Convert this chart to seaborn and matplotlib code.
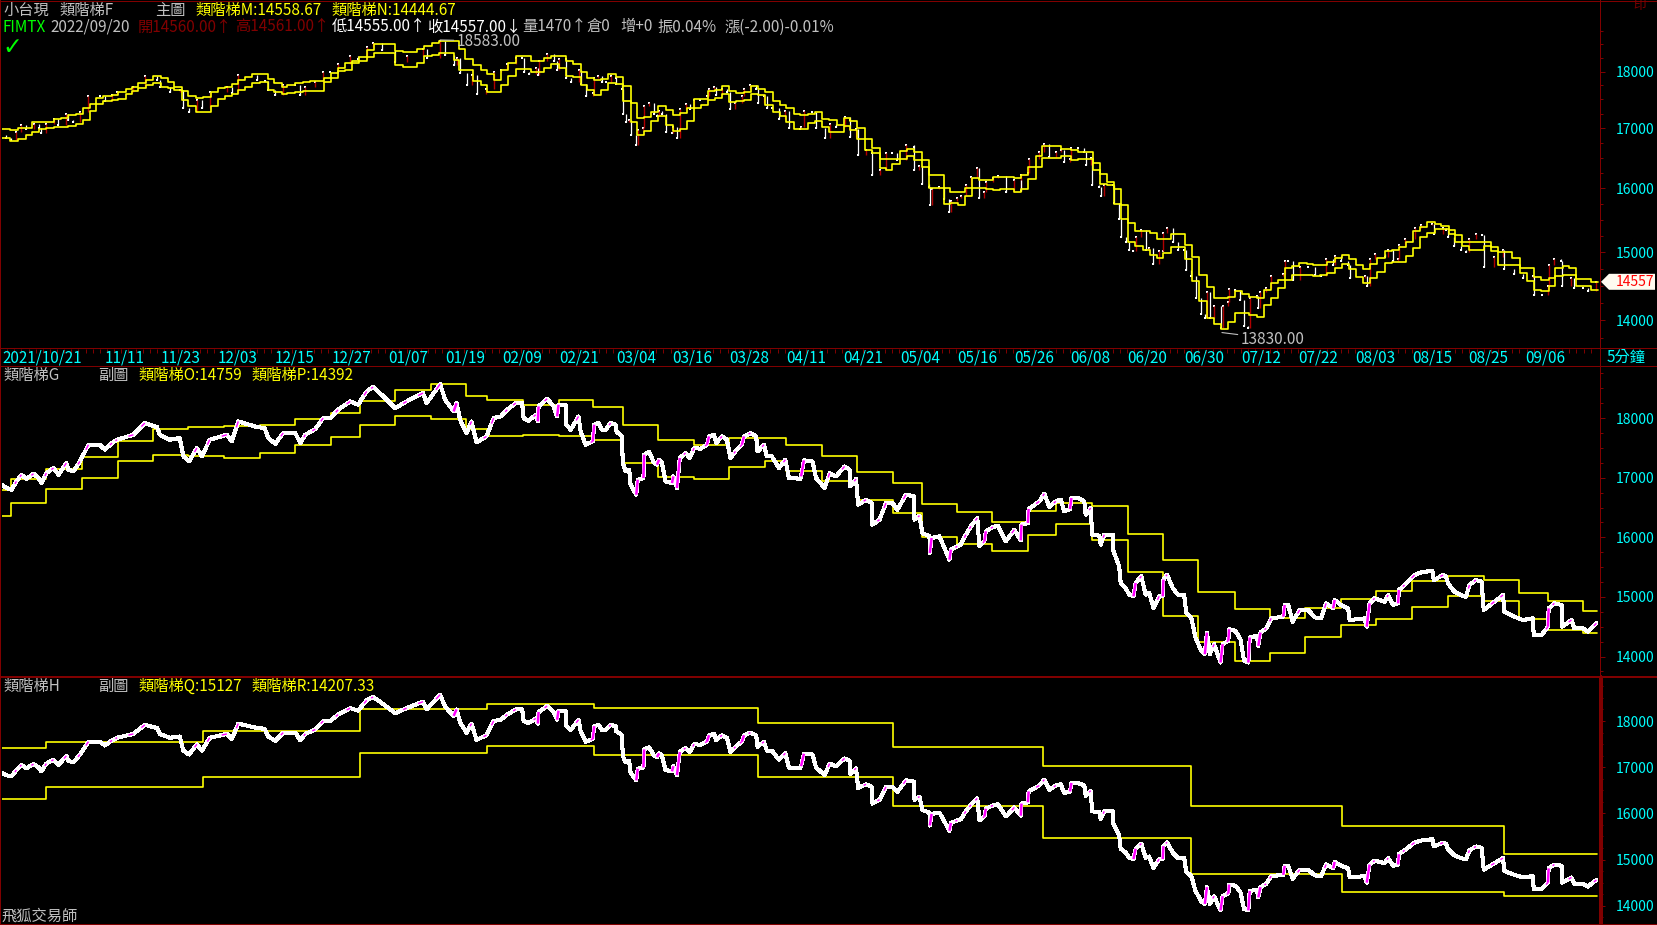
import numpy as np
import seaborn as sns
import matplotlib.pyplot as plt
from matplotlib.collections import LineCollection
from matplotlib.lines import Line2D
from matplotlib.patches import Polygon
from matplotlib.ticker import NullFormatter

# close prices (session number counted from 2021/10/21)
close_session = [
    0.2, 0.9, 1.6, 2.3, 3.0, 3.7, 4.7, 5.4, 5.8, 6.5, 7.5, 8.2, 9.3, 9.6, 10.3, 11.2, 12.4, 14.0, 14.7, 15.7,
    16.4, 18.7, 20.3, 22.0, 22.4, 23.8, 25.2, 25.7, 26.5, 27.6, 28.3, 29.4, 31.8, 32.5, 33.4, 36.0, 37.1, 37.6, 38.6, 39.7,
    41.4, 42.1, 42.8, 44.2, 45.3, 46.3, 47.4, 49.1, 50.2, 51.4, 52.3, 53.5, 55.4, 57.0, 59.3, 59.8, 61.7, 62.4, 63.6, 64.0,
    64.5, 65.4, 66.1, 66.8, 68.2, 69.2, 70.2, 71.1, 72.3, 73.2, 73.4, 74.1, 75.1, 75.4, 75.5, 76.7, 77.6, 78.1, 78.3, 79.3,
    79.4, 80.0, 81.1, 81.4, 82.1, 83.1, 83.3, 83.9, 84.4, 84.9, 85.6, 86.3, 86.4, 87.2, 87.3, 87.7, 88.2, 88.4, 89.2, 89.4,
    90.2, 90.3, 91.0, 91.7, 92.1, 92.4, 92.8, 93.3, 94.2, 94.4, 94.9, 95.3, 96.1, 96.7, 97.3, 98.2, 99.1, 99.4, 100.1, 100.4,
    101.2, 101.9, 102.4, 103.1, 104.0, 104.3, 105.2, 106.0, 106.2, 107.1, 107.5, 108.2, 109.2, 110.1, 110.6, 112.2, 112.3, 112.7, 113.9, 114.4,
    115.6, 116.3, 117.2, 118.4, 119.1, 119.2, 120.0, 120.3, 121.4, 122.2, 122.3, 123.3, 124.2, 125.1, 125.8, 127.0, 128.1, 128.2, 128.9, 129.3,
    130.3, 130.35, 130.6, 131.7, 132.4, 133.1, 133.3, 134.2, 134.7, 135.4, 136.1, 137.0, 137.3, 138.0, 138.2, 139.2, 139.9, 141.0, 142.2, 143.1,
    143.2, 144.1, 144.2, 145.7, 146.4, 147.1, 148.0, 148.7, 149.2, 150.0, 150.2, 151.1, 152.0, 152.2, 152.9, 153.1, 154.1, 154.3, 154.8, 156.0,
    156.1, 156.9, 157.1, 157.8, 158.3, 158.9, 159.2, 160.0, 160.6, 161.1, 161.7, 162.5, 163.0, 163.1, 163.6, 164.4, 165.1, 166.0, 166.3, 167.0,
    167.6, 168.4, 168.9, 169.2, 169.6, 170.2, 171.1, 171.4, 172.2, 172.3, 173.2, 173.9, 174.4, 175.0, 175.2, 176.2, 176.4, 176.7, 177.5, 178.2,
    179.9, 180.1, 180.6, 181.2, 182.2, 183.4, 184.3, 185.2, 185.9, 186.9, 187.1, 188.0, 189.0, 189.2, 191.3, 191.6, 192.0, 192.7, 194.1, 194.6,
    195.3, 196.0, 196.1, 196.9, 198.3, 199.2, 200.8, 201.0, 202.3, 202.7, 203.0, 203.9, 204.8, 205.5, 206.0, 206.9, 207.7, 208.0, 209.5, 210.7,
    210.9, 212.3, 213.5, 214.9, 215.0, 216.1, 217.0, 217.1, 217.9, 218.9, 219.0, 220.3, 220.7, 221.9, 222.6, 223.8,
]
close_price = [
    16883, 16827, 16799, 16938, 17050, 16978, 17067, 16994, 16911, 17078, 17162, 17050, 17246, 17134, 17106, 17274, 17553, 17553, 17470, 17581,
    17637, 17721, 17917, 17850, 17721, 17637, 17665, 17358, 17274, 17498, 17358, 17637, 17721, 17609, 17945, 17850, 17833, 17665, 17570, 17749,
    17749, 17581, 17721, 17816, 18000, 18000, 18140, 18280, 18224, 18448, 18520, 18392, 18168, 18280, 18420, 18252, 18571, 18308, 18112, 18252,
    17973, 17749, 17945, 17592, 17693, 18000, 18028, 18140, 18252, 18252, 18000, 17956, 18056, 17945, 18196, 18325, 18196, 18028, 18224, 18224,
    17889, 17805, 18028, 17777, 17553, 17609, 17889, 17917, 17805, 17805, 17917, 17889, 17777, 17693, 17246, 17106, 17134, 16883, 16715, 16966,
    16994, 17386, 17430, 17246, 17218, 17302, 17246, 16938, 16910, 17022, 16827, 17330, 17414, 17330, 17498, 17486, 17553, 17693, 17721, 17581,
    17693, 17637, 17330, 17442, 17553, 17693, 17749, 17693, 17442, 17553, 17358, 17358, 17162, 17302, 16994, 16983, 17022, 17291, 17274, 16994,
    16827, 17078, 17022, 17190, 17134, 16855, 16978, 16547, 16631, 16575, 16212, 16296, 16575, 16575, 16463, 16715, 16687, 16296, 16363, 16072,
    16016, 15737, 15988, 16016, 15820, 15625, 15793, 15848, 15876, 16044, 16184, 16324, 15848, 15932, 16100, 16173, 16195, 15932, 16128, 15949,
    16212, 16240, 16475, 16603, 16732, 16508, 16603, 16631, 16436, 16475, 16659, 16659, 16603, 16380, 16491, 16044, 16027, 15876, 16044, 16044,
    15765, 15513, 15234, 15150, 15038, 15010, 15234, 15346, 15038, 15066, 14814, 15010, 15010, 15290, 15374, 15150, 15038, 15038, 14730, 14646,
    14319, 14095, 14039, 14402, 14039, 14207, 13899, 14207, 14263, 14458, 14430, 14291, 13927, 13899, 14319, 14347, 14179, 14402, 14472, 14640,
    14668, 14864, 14864, 14584, 14780, 14780, 14657, 14640, 14892, 14808, 14948, 14864, 14808, 14612, 14640, 14500, 14892, 14976, 14920, 15032,
    14864, 14892, 15115, 15199, 15367, 15411, 15439, 15283, 15367, 15339, 15227, 15087, 15031, 15003, 15199, 15283, 15255, 14780, 14920, 15031,
    14752, 14668, 14612, 14640, 14360, 14360, 14500, 14808, 14892, 14864, 14500, 14612, 14472, 14472, 14416, 14557,
]

# ladder F, main chart
ladder_f_session = [
    0.1, 1.4, 2.5, 3.6, 4.5, 5.5, 6.5, 7.6, 8.5, 9.5, 10.7, 11.6, 12.6, 13.5, 14.5, 15.7, 16.6, 17.6, 18.5, 19.4,
    20.4, 21.4, 22.5, 23.5, 24.4, 25.5, 26.4, 27.5, 28.5, 29.6, 30.6, 31.5, 32.5, 33.4, 34.4, 35.3, 36.5, 37.5, 38.4, 39.5,
    40.3, 41.4, 42.5, 43.4, 44.5, 45.4, 46.4, 47.4, 48.4, 49.3, 50.3, 51.5, 52.4, 54.3, 55.4, 56.5, 58.4, 59.5, 60.5, 61.6,
    63.6, 64.3, 65.2, 66.3, 67.4, 68.3, 69.3, 70.2, 71.2, 72.3,
    74.4, 75.4, 76.3, 77.3, 78.4, 79.4, 80.3, 81.4, 82.3, 83.3, 84.3, 85.3, 86.3, 87.3, 88.4, 89.3, 90.3, 91.3, 92.3, 93.3,
    94.3, 95.3, 96.3, 97.3, 98.3, 99.3, 100.2, 101.2, 102.2, 103.2, 104.3, 105.3, 106.3, 107.3, 108.3, 109.3, 110.2, 111.3, 112.2, 113.3,
    114.2, 115.3, 116.2, 117.3, 118.3, 119.2, 120.2, 121.2, 122.2, 123.3, 124.2, 125.1, 126.2, 127.2, 128.2, 129.2, 130.2, 131.2, 132.3, 133.2,
    134.3, 135.3, 136.2, 137.2, 138.2, 139.2, 140.2, 142.2, 143.2, 144.1, 145.2, 146.1,
    148.8, 150.2, 151.1, 152.3, 153.2, 154.2, 155.2, 156.2, 157.2, 158.1, 159.1, 160.2, 161.2, 162.2, 163.1, 164.2, 166.1, 167.1, 168.1, 169.2,
    170.2, 171.1, 172.1, 173.1, 174.1, 175.1, 176.2, 177.2, 178.2, 179.1, 180.2, 181.1, 182.1, 183.2, 184.1, 185.1, 186.0, 187.1, 188.1, 189.1,
    190.1, 191.1, 192.1, 193.1, 194.1, 195.1, 196.1, 197.1, 198.1, 199.1, 200.1, 201.1, 202.0, 203.1, 204.0, 205.0, 206.0, 207.0, 208.1, 209.0,
    210.0, 212.0, 213.1, 214.0, 215.1, 216.0, 217.1, 218.0, 219.1, 220.0, 221.0, 222.0, 223.0, 224.0,
]
ladder_m = [
    16993, 16970, 16999, 16999, 17103, 17103, 17103, 17156, 17173, 17231, 17243, 17347, 17422, 17521, 17568, 17580, 17640, 17694, 17730, 17790,
    17850, 17910, 17874, 17802, 17730, 17658, 17568, 17521, 17538, 17640, 17700, 17730, 17772, 17838, 17892, 17952, 17952, 17862, 17790, 17730,
    17748, 17790, 17808, 17820, 17832, 17880, 17970, 18061, 18151, 18201, 18263, 18400, 18499, 18505, 18369, 18350, 18412, 18474, 18524, 18555,
    18555, 18412, 18226, 18121, 18031, 17952, 17838, 18031, 18151, 18288,
    18194, 18200, 18242, 18291, 18285, 18200, 18133, 17999, 17880, 17850, 17862, 17957, 17898, 17731, 17434, 17167, 17185, 17288, 17392, 17317,
    17219, 17259, 17345, 17505, 17505, 17642, 17660, 17731, 17642, 17612, 17624, 17731, 17690, 17630, 17475, 17404, 17345, 17248, 17230, 17248,
    17271, 17156, 17133, 17058, 17173, 17116, 17001, 16811, 16661, 16478, 16478, 16478, 16606, 16644, 16589, 16467, 16217, 16217, 16002, 15937,
    15937, 16002, 16163, 16126, 16136, 16190, 16190, 16163, 16217, 16344, 16522, 16689,
    16650, 16622, 16594, 16594, 16411, 16228, 16099, 15986, 15733, 15446, 15316, 15316, 15290, 15202, 15202, 15274, 15111, 14925, 14660, 14482,
    14320, 14320, 14334, 14417, 14383, 14334, 14320, 14441, 14538, 14587, 14759, 14794, 14835, 14825, 14810, 14800, 14850, 14910, 14955, 14900,
    14800, 14745, 14825, 14910, 15010, 15025, 15076, 15161, 15316, 15384, 15456, 15436, 15405, 15332, 15254, 15156, 15156, 15156, 15150, 15076,
    15000, 14910, 14759, 14759, 14635, 14577, 14611, 14759, 14784, 14759, 14602, 14602, 14558, 14558,
]
ladder_n = [
    16829, 16784, 16818, 16885, 16942, 16982, 16999, 17016, 17028, 17040, 17063, 17144, 17289, 17422, 17480, 17492, 17504, 17598, 17658, 17700,
    17760, 17790, 17730, 17700, 17670, 17492, 17376, 17277, 17277, 17388, 17504, 17562, 17598, 17670, 17730, 17790, 17802, 17670, 17628, 17598,
    17610, 17640, 17652, 17652, 17652, 17808, 17880, 18001, 18031, 18163, 18201, 18263, 18338, 18338, 18121, 18091, 18151, 18276, 18307, 18338,
    18213, 18031, 18031, 17820, 17760, 17640, 17628, 17760, 17910, 18043,
    17999, 17987, 18060, 18139, 18060, 17921, 17898, 17761, 17672, 17583, 17672, 17791, 17773, 17481, 17104, 16880, 16943, 17116, 17202, 17058,
    16943, 16984, 17127, 17345, 17404, 17493, 17523, 17594, 17463, 17481, 17493, 17594, 17583, 17404, 17288, 17213, 17104, 16984, 16984, 17087,
    17116, 17018, 16932, 16932, 17029, 16961, 16811, 16633, 16578, 16328, 16300, 16400, 16478, 16533, 16456, 16344, 16002, 16002, 15749, 15760,
    15733, 15878, 16002, 16002, 15980, 15964, 15991, 15937, 15991, 16147, 16344, 16494,
    16522, 16466, 16478, 16483, 16289, 16072, 16056, 15749, 15508, 15161, 15086, 15025, 14960, 14910, 14985, 15076, 14895, 14562, 14271, 14034,
    13949, 13878, 13972, 14104, 14104, 14081, 14048, 14222, 14320, 14465, 14587, 14660, 14660, 14660, 14645, 14660, 14684, 14759, 14820, 14745,
    14635, 14538, 14611, 14700, 14835, 14845, 14850, 14935, 15060, 15238, 15290, 15358, 15358, 15280, 15161, 15096, 15035, 15035, 15100, 15010,
    14810, 14800, 14684, 14562, 14431, 14417, 14490, 14645, 14660, 14660, 14490, 14490, 14444, 14444,
]

# ladder G, first sub chart
ladder_g_session = [
    0, 1.5, 6.5, 11.5, 16.5, 21.4, 26.4, 31.4, 36.4, 41.4, 46.4, 50.4, 55.4, 60.4, 65.3, 68.3, 73.3, 78.3, 83.2, 87.3,
    92.2, 97.3, 102.2, 107.2, 110.2, 115.3, 120.2, 125.2, 129.2, 134.2, 139.1, 144.1, 148.1, 153.1, 158.1, 163.1, 168.0, 173.1, 178.1, 183.0,
    188.0, 192.9, 198.0, 203.0, 208.0, 212.9, 217.0, 221.9, 223.9,
]
ladder_o = [
    16799, 16978, 17145, 17347, 17615, 17816, 17850, 17866, 17883, 17984, 18090, 18286, 18470, 18571, 18370, 18302, 18219, 18302, 18185, 17883,
    17632, 17548, 17665, 17665, 17548, 17363, 17095, 16911, 16558, 16424, 16257, 16441, 16575, 16525, 16055, 15619, 15076, 14791, 14640, 14808,
    14959, 15093, 15260, 15344, 15277, 15059, 14925, 14759, 14759,
]
ladder_p = [
    16357, 16575, 16804, 16994, 17280, 17380, 17363, 17330, 17414, 17548, 17682, 17878, 18029, 17984, 17816, 17699, 17715, 17699, 17626, 17246,
    17011, 16978, 17179, 17280, 17106, 16944, 16625, 16407, 16005, 15888, 15770, 16039, 16223, 15955, 15418, 14680, 14238, 13919, 14053, 14321,
    14523, 14623, 14825, 15009, 14925, 14623, 14439, 14392, 14392,
]

# ladder H, second sub chart
ladder_h_session = [0, 6.5, 28.4, 50.4, 68.3, 83.3, 106.3, 125.2, 146.2, 167.0, 188.2, 210.9, 223.9]
ladder_q = [17409, 17539, 17777, 18254, 18377, 18274, 17950, 17430, 17019, 16153, 15720, 15127, 15127]
ladder_r = [16304, 16578, 16794, 17300, 17452, 17257, 16780, 16153, 15460, 14680, 14290, 14207, 14207]

# x axis dates; every label after the long first one is 8 sessions on
first_date = '2021/10/21'
date_labels = ['11/11', '11/23', '12/03', '12/15', '12/27', '01/07', '01/19', '02/09', '02/21', '03/04', '03/16', '03/28', '04/11',
               '04/21', '05/04', '05/16', '05/26', '06/08', '06/20', '06/30', '07/12', '07/22', '08/03', '08/15', '08/25', '09/06']
price_ticks = [14000, 15000, 16000, 17000, 18000]

high_price, high_session = 18583, 61.7
low_price, low_session = 13830, 171.3
last_price = 14557

W, H = 1658, 925
RED = '#800000'
YELLOW = '#ffff00'
CYAN = '#00ffff'
GREY = '#c0c0c0'
MAGENTA = '#ff00ff'
FS = 11

sns.set_theme(style='dark', rc={'axes.facecolor': 'black', 'figure.facecolor': 'black'})
plt.rcParams['font.family'] = ['Noto Sans CJK TC', 'DejaVu Sans']


def pix_rect(x0, y0, x1, y1):
    return [x0 / W, 1 - y1 / H, (x1 - x0) / W, (y1 - y0) / H]


def put(x, y, s, color=GREY, **kw):
    kw.setdefault('fontsize', FS)
    fig.text(x / W, 1 - y / H, s, color=color, va='center', ha='left', **kw)


def rule(x0, y0, x1, y1, lw=1.0):
    fig.add_artist(Line2D([x0 / W, x1 / W], [1 - y0 / H, 1 - y1 / H], color=RED, lw=lw * 0.72,
                          antialiased=False))


def setup_axis(ax, ylim, log=False):
    if log:
        ax.set_yscale('log')
    ax.set_xlim(0.28, 224.3)
    ax.set_ylim(*ylim)
    ax.set_xticks([])
    ax.yaxis.tick_right()
    ax.set_yticks(price_ticks, [str(t) for t in price_ticks])
    ax.set_yticks(np.arange(13750, 19000, 250), minor=True)
    ax.yaxis.set_minor_formatter(NullFormatter())
    ax.tick_params(axis='y', which='major', right=True, length=3.6, width=0.72, color=RED,
                   labelcolor=CYAN, labelsize=10, pad=8)
    ax.tick_params(axis='y', which='minor', right=True, length=2.2, width=0.72, color=RED)
    ax.grid(False)
    for side in ax.spines:
        ax.spines[side].set_visible(False)


def draw_ladder(ax, session, values, lw=1.2):
    sns.lineplot(x=session, y=values, ax=ax, color=YELLOW, lw=lw, sort=False, estimator=None,
                 drawstyle='steps-post', legend=False)


def draw_close(ax):
    sns.lineplot(x=session, y=price, ax=ax, color='white', lw=2.2, sort=False, estimator=None,
                 antialiased=False, legend=False)
    # big jumps stay magenta over their whole length, on slow rises only the top of the leg shows
    jumps = []
    slow = []
    for i in range(len(session) - 1):
        x0, x1, y0, y1 = session[i], session[i + 1], price[i], price[i + 1]
        if y1 - y0 < 50:
            continue
        if x1 - x0 < 0.45:
            jumps.append([(x0, y0), (x1, y1)])
        else:
            slow.append([(x1 - 0.3 * (x1 - x0), y1 - 0.3 * (y1 - y0)), (x1, y1)])
    ax.add_collection(LineCollection(jumps, colors=MAGENTA, linewidths=1.8))
    ax.add_collection(LineCollection(slow, colors=MAGENTA, linewidths=1.0))


session = np.array(close_session)
price = np.array(close_price)

fig = plt.figure(figsize=(W / 100, H / 100), dpi=100)
ax1 = fig.add_axes(pix_rect(2, 2, 1600, 348))
ax2 = fig.add_axes(pix_rect(2, 365, 1600, 676))
ax3 = fig.add_axes(pix_rect(2, 678, 1600, 922))
strip = fig.add_axes(pix_rect(2, 349, 1600, 365))

setup_axis(ax1, (13616, 19309), log=True)
setup_axis(ax2, (13673, 18891))
setup_axis(ax3, (13647, 18932))

# main chart: thin candles only, up bars dark red, down bars white
up = np.diff(price) > 0
ax1.vlines(session[1:][up], price[:-1][up], price[1:][up], color='#b00000', lw=1.0)
ax1.vlines(session[1:][~up], price[:-1][~up], price[1:][~up], color='white', lw=0.9)
sns.scatterplot(x=session, y=price, ax=ax1, color='white', marker='s', s=4, linewidth=0, legend=False)
draw_ladder(ax1, ladder_f_session, ladder_m)
draw_ladder(ax1, ladder_f_session, ladder_n)

draw_ladder(ax2, ladder_g_session, ladder_o)
draw_ladder(ax2, ladder_g_session, ladder_p)
draw_close(ax2)

draw_ladder(ax3, ladder_h_session, ladder_q)
draw_ladder(ax3, ladder_h_session, ladder_r)
draw_close(ax3)

for ax in (ax1, ax2, ax3):
    ax.set_xlabel('')
    ax.set_ylabel('')
    ax.set_xticks([])

ax1.annotate(f'{high_price:.2f}', xy=(high_session, high_price), xytext=(457, H - 41), textcoords='figure pixels',
             color=GREY, fontsize=FS, va='center', arrowprops=dict(arrowstyle='-', color=GREY, lw=0.8, shrinkA=0, shrinkB=0))
ax1.annotate(f'{low_price:.2f}', xy=(low_session, low_price), xytext=(1241, H - 339), textcoords='figure pixels',
             color=GREY, fontsize=FS, va='center', arrowprops=dict(arrowstyle='-', color=GREY, lw=0.8, shrinkA=0, shrinkB=0))

# date strip
strip.set_xlim(0.28, 224.3)
strip.set_ylim(0, 1)
strip.set_yticks([])
strip.grid(False)
strip.set_xticks(np.arange(1, 224, 1))
strip.tick_params(axis='x', top=True, bottom=False, labelbottom=False, direction='in', length=2.6, width=0.72, color=RED)
for side in strip.spines:
    strip.spines[side].set_visible(False)
strip.text(0.4, 0.42, first_date, color=CYAN, fontsize=FS, va='center')
for i, label in enumerate(date_labels):
    strip.text(14.6 + 7.97 * i, 0.42, label, color=CYAN, fontsize=FS, va='center')
put(1607, 357, '5分鐘', CYAN)

# last price tag on the axis
tag_y = H - ax1.transData.transform((0, last_price))[1]
tag = [(1601, tag_y), (1609, tag_y - 8), (1655, tag_y - 8), (1655, tag_y + 8), (1609, tag_y + 8)]
fig.add_artist(Polygon([(x / W, 1 - y / H) for x, y in tag], closed=True, facecolor='#fffbf0', edgecolor='none',
                       transform=fig.transFigure))
put(1616, tag_y, str(last_price), '#ff0000', fontsize=10)

# headers
put(3, 10, '小台現')
put(59, 10, '類階梯F')
put(155, 10, '主圖')
put(195, 10, '類階梯M:14558.67', YELLOW)
put(331, 10, '類階梯N:14444.67', YELLOW)

put(3, 27, 'FIMTX', '#00ff00')
put(50, 27, '2022/09/20')
put(138, 27, '開14560.00↑', RED)
put(235, 27, '高14561.00↑', RED)
put(332, 27, '低14555.00↑', 'white')
put(427, 27, '收14557.00↓', 'white')
put(522, 27, '量1470↑')
put(586, 27, '倉0')
put(620, 27, '增+0')
put(657, 27, '振0.04%')
put(724, 27, '漲(-2.00)-0.01%')
put(2, 47, '✓', '#00ff00', fontsize=17, fontweight='bold', family='DejaVu Sans')

put(3, 375, '類階梯G')
put(98, 375, '副圖')
put(138, 375, '類階梯O:14759', YELLOW)
put(251, 375, '類階梯P:14392', YELLOW)

put(3, 686, '類階梯H')
put(98, 686, '副圖')
put(138, 686, '類階梯Q:15127', YELLOW)
put(251, 686, '類階梯R:14207.33', YELLOW)
put(2, 916, '飛狐交易師')
put(1633, 5, '印', RED, fontsize=9)

# frame lines
rule(0, 0.5, W, 0.5)
rule(0.5, 0, 0.5, H, lw=2)
rule(W - 1, 0, W - 1, H)
rule(0, 348.5, W, 348.5)
rule(0, 365.5, W, 365.5)
rule(0, 677, W, 677, lw=2)
rule(0, 923.5, W, 923.5)
rule(1600.5, 0, 1600.5, 677)
rule(1601, 677, 1601, 924, lw=2.5)

fig.savefig('out.png', dpi=100, facecolor='black')
